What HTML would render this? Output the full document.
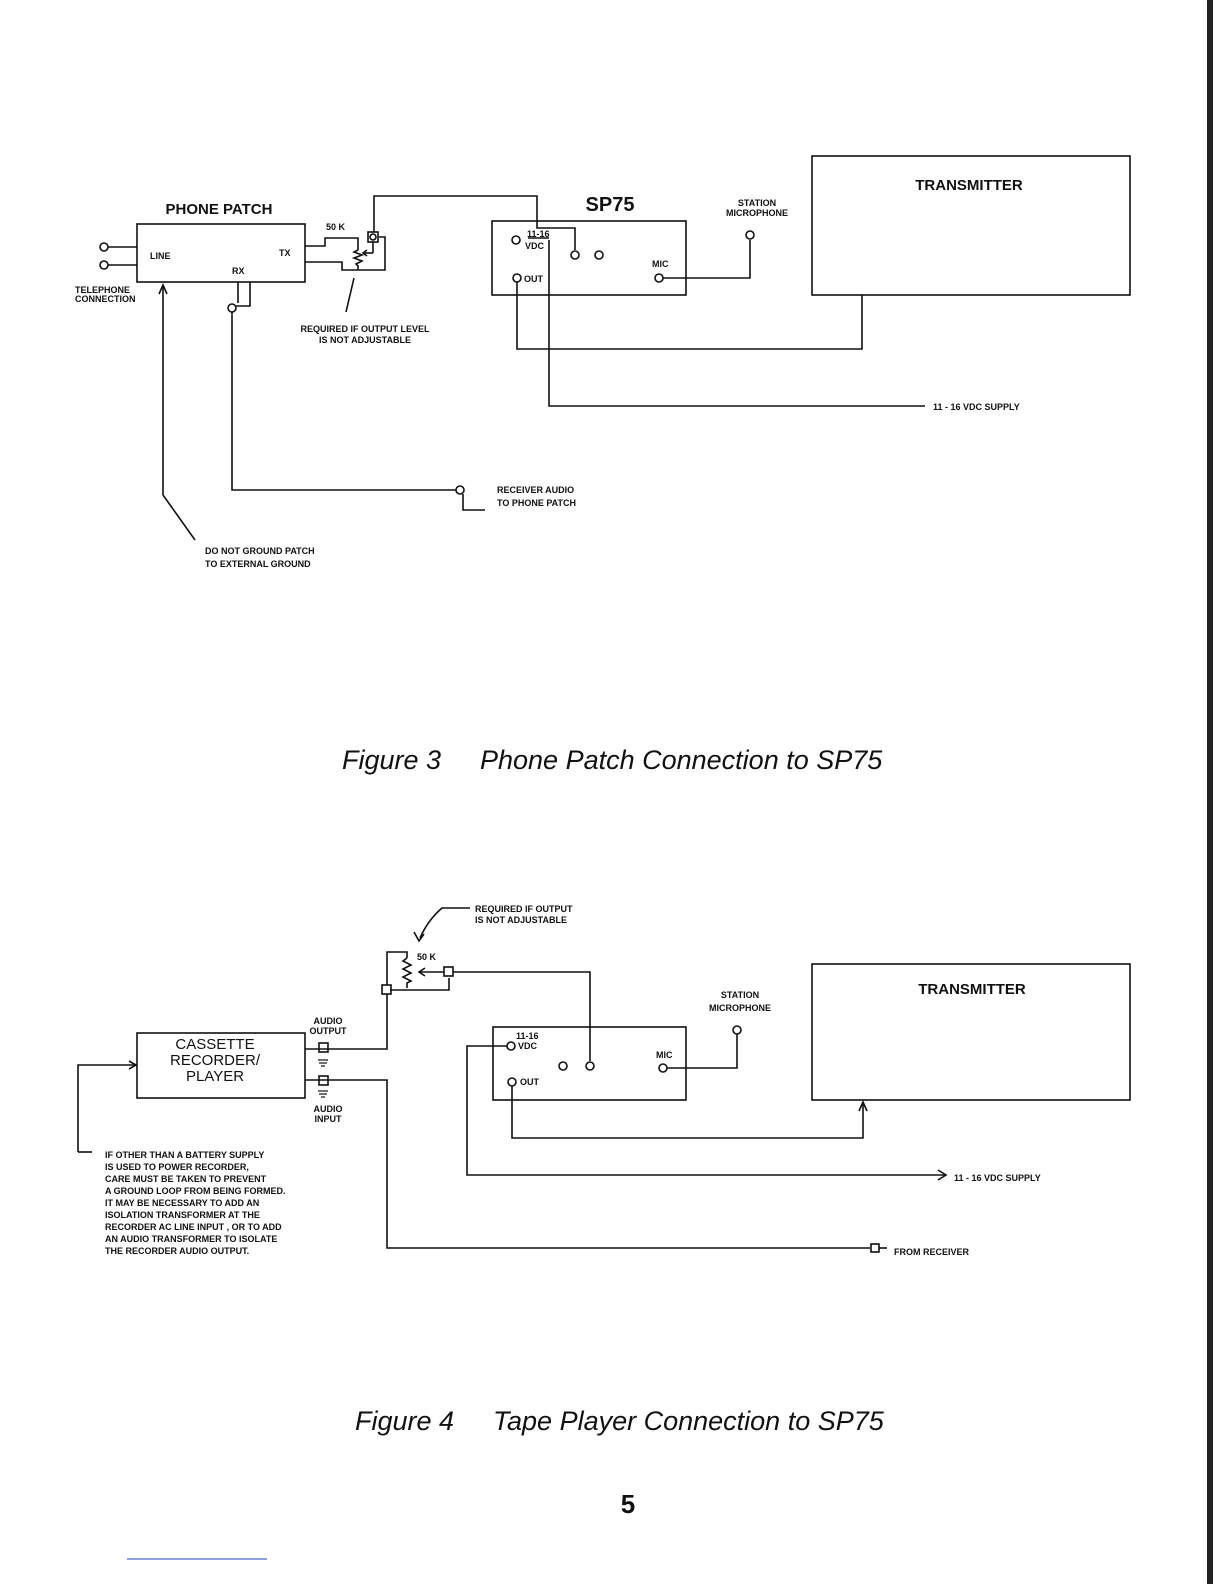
<!DOCTYPE html>
<html><head><meta charset="utf-8"><style>
html,body{margin:0;padding:0;background:#fff;}
svg{display:block;}
text{font-family:"Liberation Sans",sans-serif;fill:#111;}
.b{font-weight:bold;}
</style></head><body>
<svg width="1224" height="1584" viewBox="0 0 1224 1584" xmlns="http://www.w3.org/2000/svg">
<rect x="1207" y="0" width="6" height="1584" fill="#222"/>
<line x1="127" y1="1559" x2="267" y2="1559" stroke="#6a7fd0" stroke-width="1.5"/>
<g stroke="#111" stroke-width="1.6" fill="none">
<!-- FIGURE 3 -->
<rect x="137" y="224" width="168" height="58"/>
<circle cx="104" cy="247" r="4"/><line x1="108" y1="247" x2="137" y2="247"/>
<circle cx="104" cy="265" r="4"/><line x1="108" y1="265" x2="137" y2="265"/>
<polyline points="305,246 325,246 325,238 358,238 358,250"/>
<polyline points="358,250 354,252 362,255 354,258 362,261 356,264 358,266 358,270"/>
<polyline points="305,262 342,262 342,270 385,270 385,237 379,237"/>
<line x1="373" y1="253" x2="363" y2="253"/><polyline points="367,250 363,253 367,256"/>
<polyline points="373,242 373,253"/>
<rect x="368" y="232" width="10" height="10"/><circle cx="373" cy="237" r="3"/>
<polyline points="374,232 374,196 537,196 537,228 575,228 575,250"/>
<line x1="346" y1="312" x2="354" y2="278"/>
<polyline points="238,282 238,303"/><circle cx="232" cy="308" r="4"/>
<polyline points="250,282 250,306 236,306"/>
<polyline points="232,312 232,490 456,490"/><circle cx="460" cy="490" r="4"/>
<polyline points="463,494 463,510 485,510"/>
<line x1="163" y1="287" x2="163" y2="495"/><line x1="163" y1="495" x2="195" y2="540"/>
<polyline points="159,294 163,285 167,294"/>
<rect x="492" y="221" width="194" height="74"/>
<circle cx="516" cy="240" r="4"/><circle cx="575" cy="255" r="4"/><circle cx="599" cy="255" r="4"/>
<circle cx="517" cy="278" r="4"/><circle cx="659" cy="278" r="4"/>
<polyline points="663,278 750,278 750,240"/><circle cx="750" cy="235" r="4"/>
<polyline points="517,282 517,349 862,349 862,295"/>
<polyline points="549,240 549,406 925,406"/>
<line x1="528" y1="238" x2="549" y2="238"/>
<rect x="812" y="156" width="318" height="139"/>
<!-- FIGURE 4 -->
<path d="M470,908 L442,908 Q428,920 420,938"/>
<polyline points="414,932 419,941 424,934"/>
<polyline points="387,985 387,952 407,952 407,958"/>
<polyline points="407,958 403,961 411,965 403,969 411,973 403,977 411,981 407,983 407,988"/>
<polyline points="390,990 449,990 449,978"/>
<line x1="444" y1="972" x2="420" y2="972"/><polyline points="425,968 419,972 425,976"/>
<rect x="444" y="967" width="9" height="9"/>
<rect x="382" y="985" width="9" height="9"/>
<polyline points="453,972 590,972 590,1061"/>
<rect x="137" y="1033" width="168" height="65"/>
<polyline points="78,1152 78,1065 135,1065"/><polyline points="129,1061 136,1065 129,1069"/>
<line x1="78" y1="1152" x2="92" y2="1152"/>
<polyline points="305,1049 387,1049 387,994"/>
<rect x="319" y="1043" width="9" height="9"/>
<rect x="319" y="1076" width="9" height="9"/>
<polyline points="305,1080 387,1080 387,1248 870,1248"/>
<rect x="871" y="1244" width="8" height="8"/><line x1="879" y1="1248" x2="887" y2="1248"/>
<rect x="493" y="1027" width="193" height="73"/>
<circle cx="511" cy="1046" r="4"/><polyline points="507,1046 467,1046 467,1175 945,1175"/>
<polyline points="938,1170 946,1175 938,1180"/>
<circle cx="563" cy="1066" r="4"/><circle cx="590" cy="1066" r="4"/>
<circle cx="663" cy="1068" r="4"/><polyline points="667,1068 737,1068 737,1034"/><circle cx="737" cy="1030" r="4"/>
<circle cx="512" cy="1082" r="4"/><polyline points="512,1086 512,1138 863,1138 863,1104"/>
<polyline points="859,1111 863,1102 867,1111"/>
<rect x="812" y="964" width="318" height="136"/>
</g>
<g stroke="#111" stroke-width="1.2">
<line x1="318" y1="1060" x2="328" y2="1060"/><line x1="319" y1="1063" x2="327" y2="1063"/><line x1="321" y1="1066" x2="325" y2="1066"/>
<line x1="318" y1="1091" x2="328" y2="1091"/><line x1="319" y1="1094" x2="327" y2="1094"/><line x1="321" y1="1097" x2="325" y2="1097"/>
</g>
<!-- texts fig 3 -->
<text x="219" y="214" font-size="15" class="b" text-anchor="middle">PHONE PATCH</text>
<text x="150" y="259" font-size="9" class="b">LINE</text>
<text x="279" y="256" font-size="9" class="b">TX</text>
<text x="232" y="274" font-size="9" class="b">RX</text>
<text x="75" y="293" font-size="9" class="b">TELEPHONE</text>
<text x="75" y="302" font-size="9" class="b">CONNECTION</text>
<text x="326" y="230" font-size="9" class="b">50 K</text>
<text x="365" y="332" font-size="9" class="b" text-anchor="middle">REQUIRED IF OUTPUT LEVEL</text>
<text x="365" y="343" font-size="9" class="b" text-anchor="middle">IS NOT ADJUSTABLE</text>
<text x="610" y="211" font-size="20" class="b" text-anchor="middle">SP75</text>
<text x="527" y="237" font-size="9" class="b">11-16</text>
<text x="525" y="249" font-size="9" class="b">VDC</text>
<text x="524" y="282" font-size="9" class="b">OUT</text>
<text x="652" y="267" font-size="9" class="b">MIC</text>
<text x="757" y="206" font-size="9" class="b" text-anchor="middle">STATION</text>
<text x="757" y="216" font-size="9" class="b" text-anchor="middle">MICROPHONE</text>
<text x="969" y="190" font-size="15" class="b" text-anchor="middle">TRANSMITTER</text>
<text x="933" y="410" font-size="9" class="b">11 - 16 VDC SUPPLY</text>
<text x="497" y="493" font-size="9" class="b">RECEIVER AUDIO</text>
<text x="497" y="506" font-size="9" class="b">TO PHONE PATCH</text>
<text x="205" y="554" font-size="9" class="b">DO NOT GROUND PATCH</text>
<text x="205" y="567" font-size="9" class="b">TO EXTERNAL GROUND</text>
<text x="342" y="769" font-size="27" font-style="italic">Figure 3</text>
<text x="480" y="769" font-size="27" font-style="italic">Phone Patch Connection to SP75</text>
<!-- texts fig 4 -->
<text x="475" y="912" font-size="9" class="b">REQUIRED IF OUTPUT</text>
<text x="475" y="923" font-size="9" class="b">IS NOT ADJUSTABLE</text>
<text x="417" y="960" font-size="9" class="b">50 K</text>
<text x="215" y="1049" font-size="15" text-anchor="middle">CASSETTE</text>
<text x="215" y="1065" font-size="15" text-anchor="middle">RECORDER/</text>
<text x="215" y="1081" font-size="15" text-anchor="middle">PLAYER</text>
<text x="328" y="1024" font-size="9" class="b" text-anchor="middle">AUDIO</text>
<text x="328" y="1034" font-size="9" class="b" text-anchor="middle">OUTPUT</text>
<text x="328" y="1112" font-size="9" class="b" text-anchor="middle">AUDIO</text>
<text x="328" y="1122" font-size="9" class="b" text-anchor="middle">INPUT</text>
<g font-size="9" class="b">
<text x="105" y="1158">IF OTHER THAN A BATTERY SUPPLY</text>
<text x="105" y="1170">IS USED TO POWER RECORDER,</text>
<text x="105" y="1182">CARE MUST BE TAKEN TO PREVENT</text>
<text x="105" y="1194">A GROUND LOOP FROM BEING FORMED.</text>
<text x="105" y="1206">IT MAY BE NECESSARY TO ADD AN</text>
<text x="105" y="1218">ISOLATION TRANSFORMER AT THE</text>
<text x="105" y="1230">RECORDER AC LINE INPUT , OR TO ADD</text>
<text x="105" y="1242">AN AUDIO TRANSFORMER TO ISOLATE</text>
<text x="105" y="1254">THE RECORDER AUDIO OUTPUT.</text>
</g>
<text x="516" y="1039" font-size="9" class="b">11-16</text>
<text x="518" y="1049" font-size="9" class="b">VDC</text>
<text x="520" y="1085" font-size="9" class="b">OUT</text>
<text x="656" y="1058" font-size="9" class="b">MIC</text>
<text x="740" y="998" font-size="9" class="b" text-anchor="middle">STATION</text>
<text x="740" y="1011" font-size="9" class="b" text-anchor="middle">MICROPHONE</text>
<text x="972" y="994" font-size="15" class="b" text-anchor="middle">TRANSMITTER</text>
<text x="954" y="1181" font-size="9" class="b">11 - 16 VDC SUPPLY</text>
<text x="894" y="1255" font-size="9" class="b">FROM RECEIVER</text>
<text x="355" y="1430" font-size="27" font-style="italic">Figure 4</text>
<text x="493" y="1430" font-size="27" font-style="italic">Tape Player Connection to SP75</text>
<text x="628" y="1513" font-size="26" class="b" text-anchor="middle">5</text>
</svg>
</body></html>
